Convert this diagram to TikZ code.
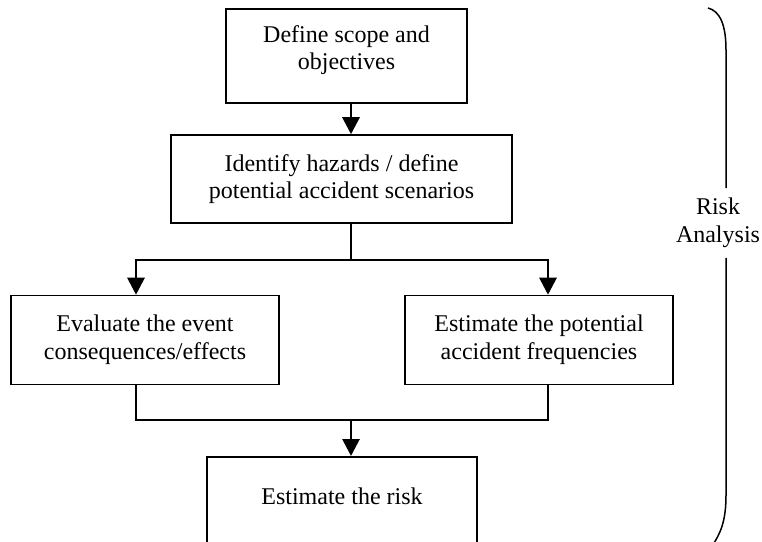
\documentclass[tikz,border=0pt]{standalone}
\usepackage{fontspec}
\setmainfont{Liberation Serif}
\usetikzlibrary{arrows.meta}
\begin{document}
\begin{tikzpicture}[x=1bp,y=-1bp,
  txt/.style={align=center, inner sep=0pt, font=\fontsize{24bp}{27.6bp}\selectfont},
  box/.style={draw, line width=1.5bp, inner sep=0pt, txt},
  thinline/.style={line width=1.5bp},
  arr/.style={line width=2.8bp, -{Triangle[width=17bp,length=17bp]}}]
\useasboundingbox (0,0) rectangle (762,542);
\clip (0,0) rectangle (762,542);
% boxes
\node[box, minimum width=241bp, minimum height=94bp] (scope) at (346.5,56) {};
\node[txt] (scopetext) at (346.5,50) {Define scope and\\objectives};
\node[box, minimum width=341bp, minimum height=88bp] (haz) at (341.5,179)
  {Identify hazards / define\\potential accident scenarios};
\node[box, minimum width=268bp, minimum height=89bp] (evalbox) at (145,340)
  {Evaluate the event\\consequences/effects};
\node[box, minimum width=268bp, minimum height=89bp] (freq) at (539,340)
  {Estimate the potential\\accident frequencies};
\node[box, minimum width=270bp, minimum height=110bp, anchor=north] (risk) at (342,456) {};
\node[txt] (risktext) at (342,496) {Estimate the risk};
% connectors
\coordinate (c1) at (351,0);
\draw[arr] (scope.south -| c1) -- (haz.north -| c1);
\coordinate (sx) at (351,260);
\coordinate (sl) at (136,260);
\coordinate (sr) at (548,260);
\draw[thinline] (haz.south -| sx) -- (sx);
\draw[arr] (sx) -| (evalbox.north -| sl);
\draw[arr] (sx) -| (freq.north -| sr);
\coordinate (ml) at (136,420);
\coordinate (mr) at (548,420);
\coordinate (mx) at (351,420);
\draw[thinline] (evalbox.south -| ml) -- (ml) -- (mr) -- (freq.south -| mr);
\draw[arr] (mx) -- (risk.north -| mx);
% brace
\node[txt, inner ysep=10bp] (ra) at (718,223) {Risk\\Analysis};
\coordinate (bx) at (726,0);
\coordinate (bt) at (708,8);
\coordinate (bb) at (712,546);
\draw[thinline] (bt) .. controls (720,11) and (726,25) .. (726,50) -- (ra.north -| bx);
\draw[thinline] (ra.south -| bx) -- (726,495) .. controls (726,520) and (721,533) .. (bb);
\end{tikzpicture}
\end{document}
